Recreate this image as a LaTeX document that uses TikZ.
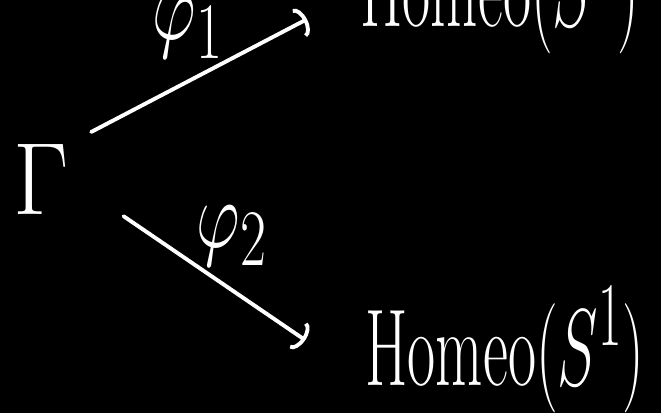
\documentclass[tikz,border=0pt]{standalone}
\usepackage{amsmath,amssymb}
\usepackage{tikz}
\usetikzlibrary{arrows.meta,positioning,calc}
\definecolor{BoardBlack}{HTML}{000000}
\definecolor{ChalkWhite}{HTML}{FFFFFF}

\begin{document}
\begin{tikzpicture}[x=0.02cm,y=0.02cm,
    ink/.style={ChalkWhite,line width=2.2pt,line cap=round,-{Arc Barb[length=5pt,width=18pt]}},
    grp/.style={text=ChalkWhite,inner sep=0pt,font=\Huge},
    tgt/.style={text=ChalkWhite,inner sep=0pt,anchor=base,font=\Huge},
    maplbl/.style={text=ChalkWhite,inner sep=0pt,anchor=base,font=\Huge}]
    \fill[BoardBlack] (0,0) rectangle (661,413);
    \useasboundingbox (0,0) rectangle (661,413);
    \clip (0,0) rectangle (661,413);
    \node[grp] (gam) at (41,234) {\scalebox{2.2}[2.35]{$\Gamma$}};
    \node[tgt] (top) at (500,386) {\scalebox{1.4}[2.5]{$\mathrm{Homeo}(S^1)$}};
    \node[tgt] (bot) at (505,28) {\scalebox{1.4}[2.5]{$\mathrm{Homeo}(S^1)$}};
    \draw[ink,shorten <=0.5cm,shorten >=1.2cm] (gam.north east) -- (top.west);
    \draw[ink,shorten <=1.32cm,shorten >=1.45cm] (gam.east) -- ($(bot.west)!0.5!(bot.south west)$);
    \node[maplbl] (phi1) at (188,373) {\scalebox{1.55}[2.2]{$\varphi_1$}};
    \node[maplbl] (phi2) at (232,166) {\scalebox{1.55}[2.2]{$\varphi_2$}};
  \end{tikzpicture}
\end{document}
